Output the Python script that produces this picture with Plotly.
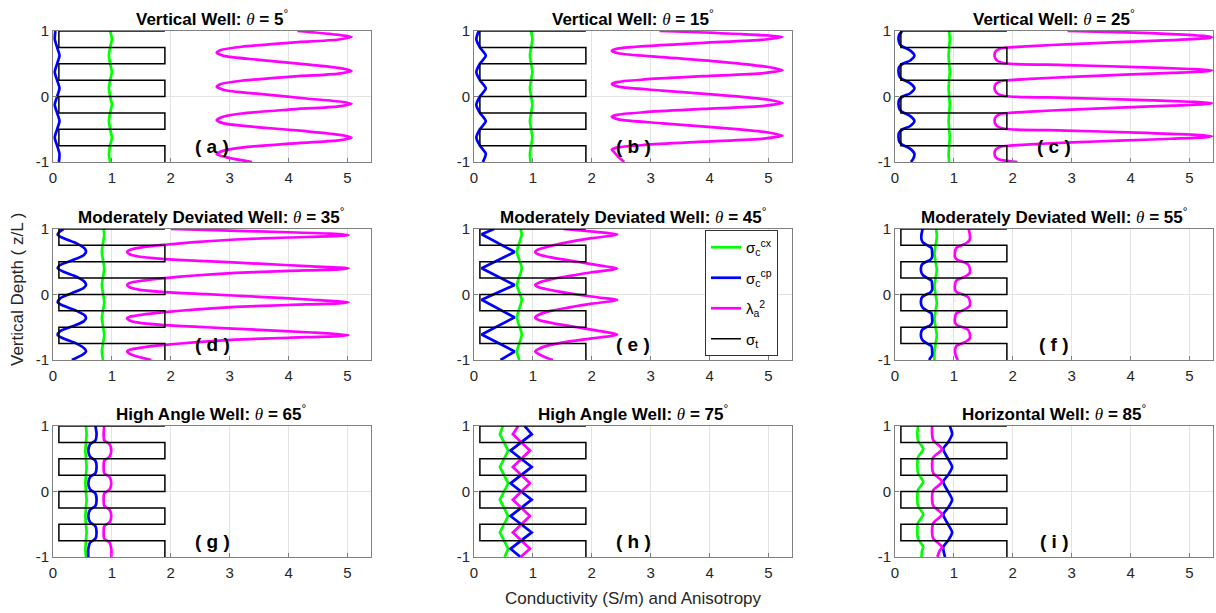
import plotly.graph_objects as go

# ---------------- data ----------------
THETAS = [5, 15, 25, 35, 45, 55, 65, 75, 85]
WELL_TYPES = ["Vertical Well", "Vertical Well", "Vertical Well",
              "Moderately Deviated Well", "Moderately Deviated Well", "Moderately Deviated Well",
              "High Angle Well", "High Angle Well", "Horizontal Well"]
PANEL_LABELS = ["a", "b", "c", "d", "e", "f", "g", "h", "i"]
X_TICKS = [0, 1, 2, 3, 4, 5]
Y_TICKS = [-1, 0, 1]
Y_TICK_TEXT = ["-1", "0", "1"]

# true formation conductivity (step profile, layer tops)
SIGMA_T_Z = [1.0, 0.75, 0.5, 0.25, 0.0, -0.25, -0.5, -0.75, -1.0]
SIGMA_T_X = [1.9, 0.1, 1.9, 0.1, 1.9, 0.1, 1.9, 0.1, 1.9]

GRID_Z = [1.0, 0.875, 0.75, 0.625, 0.5, 0.375, 0.25, 0.125, 0.0,
          -0.125, -0.25, -0.375, -0.5, -0.625, -0.75, -0.875, -1.0]

# (a) theta = 5
A_GREEN_Z = GRID_Z
A_GREEN_X = [0.97, 1.0, 0.97, 0.95, 0.97, 1.0, 0.97, 0.95, 0.97, 1.0, 0.97, 0.95, 0.97, 1.0, 0.97, 0.95, 0.97]
A_BLUE_Z = GRID_Z
A_BLUE_X = [0.04, 0.03, 0.07, 0.11, 0.07, 0.03, 0.07, 0.11, 0.07, 0.03, 0.07, 0.11, 0.07, 0.03, 0.07, 0.11, 0.1]
A_MAG_Z = [1.0, 0.95, 0.91, 0.87, 0.82, 0.76, 0.71, 0.67, 0.62, 0.56, 0.49, 0.43, 0.39, 0.35, 0.30,
           0.24, 0.19, 0.15, 0.10, 0.04, -0.03, -0.08, -0.11, -0.15, -0.20, -0.26, -0.32, -0.36,
           -0.41, -0.47, -0.53, -0.59, -0.63, -0.67, -0.72, -0.78, -0.84, -0.88, -0.93, -1.0]
A_MAG_X = [4.15, 4.75, 5.07, 4.85, 4.0, 3.2, 2.85, 2.78, 2.9, 3.5, 4.3, 4.9, 5.07, 4.85, 4.0,
           3.2, 2.85, 2.78, 2.9, 3.5, 4.3, 4.9, 5.07, 4.85, 4.0, 3.2, 2.85, 2.78,
           2.9, 3.5, 4.3, 4.9, 5.07, 4.85, 4.0, 3.2, 2.85, 2.78, 2.95, 3.38]

# (b) theta = 15
B_GREEN_Z = GRID_Z
B_GREEN_X = [0.97, 0.99, 0.97, 0.95, 0.97, 0.99, 0.97, 0.95, 0.97, 0.99, 0.97, 0.95, 0.97, 0.99, 0.97, 0.95, 0.96]
B_BLUE_Z = GRID_Z
B_BLUE_X = [0.08, 0.04, 0.1, 0.2, 0.1, 0.04, 0.1, 0.2, 0.1, 0.04, 0.1, 0.2, 0.1, 0.04, 0.1, 0.2, 0.15]
B_MAG_Z = [1.0, 0.95, 0.91, 0.87, 0.82, 0.77, 0.73, 0.70, 0.66, 0.60, 0.53, 0.45, 0.40, 0.36, 0.31,
           0.26, 0.22, 0.19, 0.15, 0.09, 0.02, -0.05, -0.10, -0.14, -0.19, -0.24, -0.28, -0.31,
           -0.35, -0.41, -0.48, -0.55, -0.60, -0.64, -0.69, -0.74, -0.78, -0.81, -0.85, -0.92, -1.0]
B_MAG_X = [3.15, 4.6, 5.24, 4.95, 3.9, 2.9, 2.42, 2.34, 2.45, 3.2, 4.2, 5.0, 5.24, 4.95, 3.9,
           2.9, 2.42, 2.34, 2.45, 3.2, 4.2, 5.0, 5.24, 4.95, 3.9, 2.9, 2.42, 2.34,
           2.45, 3.2, 4.2, 5.0, 5.24, 4.95, 3.9, 2.9, 2.42, 2.34, 2.38, 2.45, 2.55]

# (c) theta = 25
C_GREEN_Z = GRID_Z
C_GREEN_X = [0.92, 0.93, 0.92, 0.91, 0.92, 0.93, 0.92, 0.91, 0.92, 0.93, 0.92, 0.91, 0.92, 0.93, 0.92, 0.91, 0.92]
C_BLUE_Z = [1.0, 0.94, 0.875, 0.80, 0.76, 0.70, 0.625, 0.55, 0.50, 0.45, 0.375, 0.30, 0.26, 0.20,
            0.125, 0.05, 0.0, -0.05, -0.125, -0.20, -0.24, -0.30, -0.375, -0.45, -0.50, -0.55,
            -0.625, -0.70, -0.74, -0.80, -0.875, -0.95, -1.0]
C_BLUE_X = [0.12, 0.07, 0.06, 0.08, 0.13, 0.26, 0.33, 0.26, 0.13, 0.07, 0.06, 0.08, 0.13, 0.26,
            0.33, 0.26, 0.13, 0.07, 0.06, 0.08, 0.13, 0.26, 0.33, 0.26, 0.13, 0.07,
            0.06, 0.08, 0.13, 0.26, 0.33, 0.31, 0.27]
C_MAG_Z = [1.0, 0.98, 0.95, 0.92, 0.905, 0.89, 0.86, 0.83, 0.80, 0.77, 0.75, 0.73, 0.69, 0.625, 0.56, 0.52,
           0.50, 0.48, 0.45, 0.42, 0.40, 0.385, 0.36, 0.33, 0.30, 0.27, 0.25, 0.23, 0.19, 0.125, 0.06, 0.02,
           0.0, -0.02, -0.05, -0.08, -0.10, -0.115, -0.14, -0.17, -0.20, -0.23, -0.25, -0.27, -0.31, -0.375,
           -0.44, -0.48, -0.50, -0.52, -0.55, -0.58, -0.605, -0.62, -0.645, -0.675, -0.70, -0.73, -0.75,
           -0.77, -0.81, -0.875, -0.94, -0.97, -1.0]
C_MAG_X = [2.93, 3.9, 4.8, 5.3, 5.38, 5.3, 4.7, 3.8, 3.0, 2.3, 1.95, 1.78, 1.71, 1.69, 1.72, 1.8,
           1.95, 2.9, 4.1, 5.0, 5.38, 5.3, 4.7, 3.8, 3.0, 2.3, 1.95, 1.78, 1.71, 1.69, 1.72, 1.8,
           1.95, 2.9, 4.1, 5.0, 5.38, 5.3, 4.7, 3.8, 3.0, 2.3, 1.95, 1.78, 1.71, 1.69,
           1.72, 1.8, 1.95, 2.9, 4.1, 5.0, 5.38, 5.3, 4.7, 3.8, 3.0, 2.3, 1.95,
           1.78, 1.71, 1.69, 1.72, 1.8, 2.08]

# (d) theta = 35
D_GREEN_Z = [1.0, 0.91, 0.65, 0.40, 0.145, -0.12, -0.36, -0.62, -0.87, -1.0]
D_GREEN_X = [0.86, 0.87, 0.83, 0.87, 0.83, 0.87, 0.83, 0.87, 0.83, 0.85]
D_BLUE_Z = [1.0, 0.95, 0.91, 0.85, 0.78, 0.70, 0.65, 0.60, 0.52, 0.45, 0.40, 0.34, 0.27, 0.19, 0.145,
            0.10, 0.02, -0.06, -0.12, -0.18, -0.25, -0.32, -0.36, -0.41, -0.49, -0.56, -0.62, -0.68,
            -0.75, -0.83, -0.87, -0.92, -1.0]
D_BLUE_X = [0.18, 0.1, 0.08, 0.2, 0.4, 0.54, 0.56, 0.52, 0.32, 0.12, 0.08, 0.2, 0.4, 0.54, 0.56,
            0.52, 0.32, 0.12, 0.08, 0.2, 0.4, 0.54, 0.56, 0.52, 0.32, 0.12, 0.08, 0.2,
            0.4, 0.54, 0.56, 0.5, 0.32]
D_MAG_Z = [1.0, 0.975, 0.95, 0.93, 0.91, 0.895, 0.87, 0.84, 0.80, 0.76, 0.72, 0.68, 0.65, 0.62, 0.58,
           0.545, 0.51, 0.47, 0.43, 0.40, 0.385, 0.36, 0.33, 0.29, 0.25, 0.21, 0.175, 0.145, 0.115,
           0.075, 0.04, 0.005, -0.035, -0.08, -0.12, -0.135, -0.16, -0.19, -0.23, -0.27, -0.31,
           -0.34, -0.36, -0.39, -0.43, -0.465, -0.50, -0.54, -0.58, -0.62, -0.635, -0.66, -0.69,
           -0.73, -0.77, -0.81, -0.845, -0.87, -0.90, -0.94, -1.0]
D_MAG_X = [2.0, 3.0, 4.0, 4.7, 5.02, 4.85, 4.0, 3.1, 2.4, 1.9, 1.5, 1.3, 1.26, 1.29, 1.45,
           1.85, 2.6, 3.5, 4.4, 5.02, 4.85, 4.0, 3.1, 2.4, 1.9, 1.5, 1.3, 1.26, 1.29,
           1.45, 1.85, 2.6, 3.5, 4.4, 5.02, 4.85, 4.0, 3.1, 2.4, 1.9, 1.5,
           1.3, 1.26, 1.29, 1.45, 1.85, 2.6, 3.5, 4.4, 5.02, 4.85, 4.0, 3.1,
           2.4, 1.9, 1.5, 1.3, 1.26, 1.29, 1.4, 1.67]

# (e) theta = 45
E_GREEN_Z = [1.0, 0.92, 0.65, 0.40, 0.145, -0.08, -0.35, -0.61, -0.87, -1.0]
E_GREEN_X = [0.79, 0.81, 0.73, 0.81, 0.73, 0.81, 0.73, 0.81, 0.73, 0.77]
E_BLUE_Z = [1.0, 0.92, 0.65, 0.40, 0.145, -0.08, -0.35, -0.61, -0.87, -1.0]
E_BLUE_X = [0.34, 0.13, 0.69, 0.13, 0.69, 0.13, 0.69, 0.13, 0.69, 0.45]
E_MAG_Z = [1.0, 0.97, 0.94, 0.92, 0.90, 0.86, 0.80, 0.74, 0.69, 0.65, 0.61, 0.56, 0.50, 0.44, 0.40,
           0.38, 0.34, 0.28, 0.23, 0.18, 0.145, 0.11, 0.06, 0.0, -0.05, -0.08, -0.10, -0.14, -0.20,
           -0.25, -0.31, -0.35, -0.39, -0.44, -0.50, -0.56, -0.61, -0.63, -0.67, -0.72, -0.77,
           -0.83, -0.87, -0.91, -0.96, -1.0]
E_MAG_X = [1.52, 1.9, 2.25, 2.43, 2.35, 2.0, 1.6, 1.3, 1.1, 1.04, 1.1, 1.35, 1.75, 2.15, 2.43,
           2.35, 2.0, 1.6, 1.3, 1.1, 1.04, 1.1, 1.35, 1.75, 2.15, 2.43, 2.35, 2.0, 1.6,
           1.3, 1.1, 1.04, 1.1, 1.35, 1.75, 2.15, 2.43, 2.35, 2.0, 1.6, 1.3,
           1.1, 1.04, 1.1, 1.22, 1.34]

# (f) theta = 55
STEP_Z = [1.0, 0.92, 0.84, 0.79, 0.75, 0.71, 0.65, 0.57, 0.53, 0.50, 0.46, 0.40, 0.33, 0.29, 0.25,
          0.21, 0.15, 0.07, 0.03, 0.0, -0.04, -0.10, -0.17, -0.21, -0.25, -0.29, -0.35, -0.43,
          -0.47, -0.50, -0.54, -0.60, -0.67, -0.71, -0.75, -0.79, -0.85, -0.93, -0.97, -1.0]
F_GREEN_Z = GRID_Z
F_GREEN_X = [0.70, 0.71, 0.69, 0.67, 0.69, 0.71, 0.69, 0.67, 0.69, 0.71, 0.69, 0.67, 0.69, 0.71, 0.69, 0.67, 0.67]
F_BLUE_Z = STEP_Z
F_BLUE_X = [0.47, 0.45, 0.45, 0.48, 0.55, 0.62, 0.63, 0.63, 0.6, 0.53, 0.46, 0.44, 0.45, 0.48, 0.55,
            0.62, 0.63, 0.63, 0.6, 0.53, 0.46, 0.44, 0.45, 0.48, 0.55, 0.62, 0.63, 0.63,
            0.6, 0.53, 0.46, 0.44, 0.45, 0.48, 0.55, 0.62, 0.63, 0.63, 0.6, 0.58]
F_MAG_Z = STEP_Z
F_MAG_X = [1.25, 1.27, 1.27, 1.22, 1.13, 1.04, 1.02, 1.02, 1.06, 1.15, 1.24, 1.27, 1.27, 1.22, 1.13,
           1.04, 1.02, 1.02, 1.06, 1.15, 1.24, 1.27, 1.27, 1.22, 1.13, 1.04, 1.02, 1.02,
           1.06, 1.15, 1.24, 1.27, 1.27, 1.22, 1.13, 1.04, 1.02, 1.03, 1.05, 1.07]

# (g) theta = 65
G_STEP_Z = [1.0, 0.875, 0.78, 0.72, 0.625, 0.53, 0.47, 0.375, 0.28, 0.22, 0.125, 0.03, -0.03,
            -0.125, -0.22, -0.28, -0.375, -0.47, -0.53, -0.625, -0.72, -0.78, -0.875, -1.0]
G_GREEN_Z = GRID_Z
G_GREEN_X = [0.56, 0.57, 0.56, 0.55, 0.56, 0.57, 0.56, 0.55, 0.56, 0.57, 0.56, 0.55, 0.56, 0.57, 0.56, 0.55, 0.56]
G_BLUE_Z = G_STEP_Z
G_BLUE_X = [0.72, 0.74, 0.72, 0.63, 0.6, 0.63, 0.72, 0.74, 0.72, 0.63, 0.6, 0.63, 0.72, 0.74,
            0.72, 0.63, 0.6, 0.63, 0.72, 0.74, 0.72, 0.63, 0.6, 0.6]
G_MAG_Z = G_STEP_Z
G_MAG_X = [0.87, 0.86, 0.87, 0.96, 0.99, 0.96, 0.87, 0.86, 0.87, 0.96, 0.99, 0.96, 0.87, 0.86,
           0.87, 0.96, 0.99, 0.96, 0.87, 0.86, 0.87, 0.96, 0.99, 0.99]

# (h) theta = 75
H_Z = [1.0, 0.875, 0.625, 0.375, 0.125, -0.125, -0.375, -0.625, -0.875, -1.0]
H_GREEN_Z = H_Z
H_GREEN_X = [0.49, 0.44, 0.58, 0.44, 0.58, 0.44, 0.58, 0.44, 0.58, 0.52]
H_BLUE_Z = H_Z
H_BLUE_X = [0.86, 0.98, 0.62, 0.98, 0.62, 0.98, 0.62, 0.98, 0.62, 0.79]
H_MAG_Z = H_Z
H_MAG_X = [0.75, 0.66, 0.95, 0.66, 0.95, 0.66, 0.95, 0.66, 0.95, 0.79]

# (i) theta = 85
I_BUMP_Z = [1.0, 0.875, 0.78, 0.70, 0.65, 0.60, 0.52, 0.375, 0.28, 0.20, 0.15, 0.10, 0.02,
            -0.125, -0.22, -0.30, -0.35, -0.40, -0.48, -0.625, -0.72, -0.80, -0.85, -0.90, -1.0]
I_GREEN_Z = I_BUMP_Z
I_GREEN_X = [0.39, 0.38, 0.39, 0.45, 0.48, 0.45, 0.39, 0.38, 0.39, 0.45, 0.48, 0.45, 0.39,
             0.38, 0.39, 0.45, 0.48, 0.45, 0.39, 0.38, 0.39, 0.45, 0.48, 0.46, 0.45]
I_MAG_Z = I_BUMP_Z
I_MAG_X = [0.63, 0.63, 0.65, 0.75, 0.80, 0.75, 0.65, 0.63, 0.65, 0.75, 0.80, 0.75, 0.65,
           0.63, 0.65, 0.75, 0.80, 0.75, 0.65, 0.63, 0.65, 0.75, 0.80, 0.76, 0.72]
I_BLUE_Z = [1.0, 0.875, 0.75, 0.65, 0.5, 0.375, 0.25, 0.15, 0.0, -0.125, -0.25, -0.35, -0.5,
            -0.625, -0.75, -0.85, -1.0]
I_BLUE_X = [0.93, 0.97, 0.9, 0.82, 0.9, 0.97, 0.9, 0.82, 0.9, 0.97, 0.9, 0.82, 0.9, 0.97, 0.9, 0.82, 0.85]

PANELS = [
    (A_GREEN_X, A_GREEN_Z, A_BLUE_X, A_BLUE_Z, A_MAG_X, A_MAG_Z),
    (B_GREEN_X, B_GREEN_Z, B_BLUE_X, B_BLUE_Z, B_MAG_X, B_MAG_Z),
    (C_GREEN_X, C_GREEN_Z, C_BLUE_X, C_BLUE_Z, C_MAG_X, C_MAG_Z),
    (D_GREEN_X, D_GREEN_Z, D_BLUE_X, D_BLUE_Z, D_MAG_X, D_MAG_Z),
    (E_GREEN_X, E_GREEN_Z, E_BLUE_X, E_BLUE_Z, E_MAG_X, E_MAG_Z),
    (F_GREEN_X, F_GREEN_Z, F_BLUE_X, F_BLUE_Z, F_MAG_X, F_MAG_Z),
    (G_GREEN_X, G_GREEN_Z, G_BLUE_X, G_BLUE_Z, G_MAG_X, G_MAG_Z),
    (H_GREEN_X, H_GREEN_Z, H_BLUE_X, H_BLUE_Z, H_MAG_X, H_MAG_Z),
    (I_GREEN_X, I_GREEN_Z, I_BLUE_X, I_BLUE_Z, I_MAG_X, I_MAG_Z),
]
SERIES_NAMES = ["σ<sub>c</sub><sup>cx</sup>", "σ<sub>c</sub><sup>cp</sup>",
                "λ<sub>a</sub><sup>2</sup>", "σ<sub>t</sub>"]

# ---------------- styling ----------------
W, H = 1216, 613
FONT = "Liberation Sans, Arial, Helvetica, sans-serif"
COLORS = ["#00ff00", "#0000ff", "#ff00ff", "#000000"]
LINEAR_PANELS = {"e": ["blue"], "h": ["green", "blue", "mag"]}
COL_PX = [(53, 371), (474, 792), (895, 1213)]
ROW_PX = [(31, 162), (229, 360), (426, 557)]

fig = go.Figure()
layout = dict(
    width=W, height=H, margin=dict(l=0, r=0, t=0, b=0, autoexpand=False),
    paper_bgcolor="white", plot_bgcolor="white",
    font=dict(family=FONT, size=15, color="#262626"),
    showlegend=True,
    legend=dict(x=705 / W, y=1 - 230 / H, xanchor="left", yanchor="top",
                bgcolor="white", bordercolor="#333333", borderwidth=1,
                font=dict(family=FONT, size=15, color="#000000"),
                itemwidth=30, tracegroupgap=8),
)
annotations = []

for i, (gx, gz, bx, bz, mx, mz) in enumerate(PANELS):
    r, c = divmod(i, 3)
    n = "" if i == 0 else str(i + 1)
    xref, yref = "x" + n, "y" + n
    lab = PANEL_LABELS[i]
    lin = LINEAR_PANELS.get(lab, [])
    leg = (lab == "e")
    for key, xs, zs, col, name in [("green", gx, gz, COLORS[0], SERIES_NAMES[0]),
                                   ("blue", bx, bz, COLORS[1], SERIES_NAMES[1]),
                                   ("mag", mx, mz, COLORS[2], SERIES_NAMES[2])]:
        shape = "linear" if key in lin else "spline"
        fig.add_trace(go.Scatter(
            x=xs, y=zs, mode="lines", xaxis=xref, yaxis=yref,
            line=dict(color=col, width=2.7, shape=shape, smoothing=0.7),
            name=name, showlegend=leg, legendgroup=key, hoverinfo="skip"))
    fig.add_trace(go.Scatter(
        x=SIGMA_T_X, y=SIGMA_T_Z, mode="lines", xaxis=xref, yaxis=yref,
        line=dict(color=COLORS[3], width=1.5, shape="hv"),
        name=SERIES_NAMES[3], showlegend=leg, legendgroup="black", hoverinfo="skip"))

    x0, x1 = COL_PX[c]
    y0, y1 = ROW_PX[r]
    axis_common = dict(showline=True, mirror=True, linecolor="#808080", linewidth=1,
                       ticks="inside", ticklen=4, tickcolor="#808080", automargin=False,
                       showgrid=True, gridcolor="#e3e3e3", gridwidth=1, zeroline=False,
                       tickfont=dict(family=FONT, size=15, color="#262626"), fixedrange=True)
    layout["xaxis" + n] = dict(domain=[x0 / W, x1 / W], anchor=yref, range=[0, 5.4],
                               tickvals=X_TICKS, ticktext=[str(v) for v in X_TICKS],
                               ticklabelstandoff=2, **axis_common)
    layout["yaxis" + n] = dict(domain=[1 - y1 / H, 1 - y0 / H], anchor=xref, range=[-1, 1],
                               tickvals=Y_TICKS, ticktext=Y_TICK_TEXT, **axis_common)

    title = (f"<b>{WELL_TYPES[i]}: </b><span style=\"font-family:'Liberation Serif',serif\"><i>θ</i></span>"
             f"<b> = {THETAS[i]}</b><sup>°</sup>")
    annotations.append(dict(text=title, x=(x0 + x1) / 2 / W, y=1 - y0 / H, xref="paper", yref="paper",
                            xanchor="center", yanchor="bottom", yshift=0, showarrow=False,
                            font=dict(family=FONT, size=17, color="#000000")))
    annotations.append(dict(text=f"<b>( {lab} )</b>", x=2.7, y=-0.77, xref=xref, yref=yref,
                            xanchor="center", yanchor="middle", showarrow=False,
                            font=dict(family=FONT, size=19, color="#000000")))

annotations.append(dict(text="Conductivity (S/m) and Anisotropy", x=633 / W, y=1 - 598 / H,
                        xref="paper", yref="paper", xanchor="center", yanchor="middle",
                        showarrow=False, font=dict(family=FONT, size=17, color="#262626")))
annotations.append(dict(text="Vertical Depth ( z/L )", x=17 / W, y=1 - 290 / H,
                        xref="paper", yref="paper", xanchor="center", yanchor="middle",
                        textangle=-90, showarrow=False, font=dict(family=FONT, size=17, color="#262626")))
layout["annotations"] = annotations
fig.update_layout(**layout)
fig.write_html("out.html", config={"displayModeBar": False},
               post_script="document.body.style.margin='0';document.body.style.overflow='hidden';")
